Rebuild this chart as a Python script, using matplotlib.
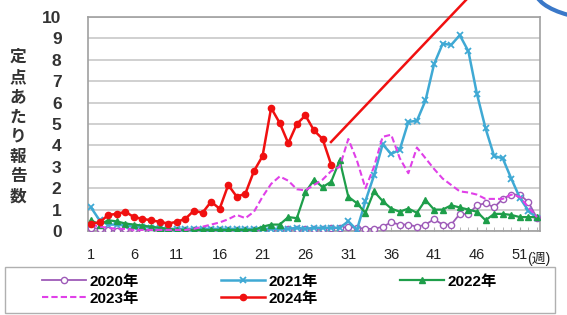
import matplotlib
matplotlib.use('Agg')

import numpy as np
import matplotlib.pyplot as plt
from matplotlib.patches import Arc, Rectangle
import matplotlib.lines as mlines

plt.rcParams['font.family'] = ['Liberation Sans', 'Noto Sans CJK JP']

# weekly reports per sentinel site, weeks 1..53
weeks = np.arange(1, 54)

y2020 = [0.15, 0.1, 0.05, 0.0, 0.1, 0.1, 0.05, 0.05, 0.05, 0.05,
         0.05, 0.05, 0.05, 0.05, 0.05, 0.05, 0.05, 0.05, 0.05, 0.05,
         0.05, 0.05, 0.1, 0.1, 0.1, 0.1, 0.1, 0.1, 0.15, 0.15,
         0.2, 0.15, 0.1, 0.1, 0.2, 0.4, 0.3, 0.3, 0.2, 0.3,
         0.55, 0.3, 0.3, 0.8, 0.8, 1.2, 1.3, 1.1, 1.5, 1.7,
         1.7, 1.35, 0.6]

y2021 = [1.1, 0.5, 0.3, 0.3, 0.25, 0.2, 0.2, 0.15, 0.15, 0.1,
         0.1, 0.1, 0.1, 0.1, 0.1, 0.1, 0.1, 0.1, 0.1, 0.1,
         0.1, 0.1, 0.1, 0.1, 0.15, 0.1, 0.15, 0.15, 0.15, 0.15,
         0.45, 0.05, 1.4, 2.6, 4.05, 3.6, 3.8, 5.1, 5.15, 6.1,
         7.8, 8.75, 8.7, 9.15, 8.4, 6.4, 4.8, 3.5, 3.4, 2.45,
         1.55, 0.95, 0.6]

y2022 = [0.5, 0.3, 0.5, 0.45, 0.35, 0.3, 0.25, 0.2, 0.15, 0.1,
         0.05, 0.05, 0.05, 0.05, 0.05, 0.05, 0.05, 0.05, 0.05, 0.05,
         0.2, 0.3, 0.3, 0.65, 0.6, 1.8, 2.4, 2.05, 2.3, 3.3,
         1.6, 1.3, 0.85, 1.85, 1.4, 1.05, 0.9, 1.05, 0.85, 1.45,
         1.0, 1.0, 1.2, 1.1, 1.0, 0.9, 0.5, 0.8, 0.8, 0.75,
         0.65, 0.65, 0.65]

y2023 = [0.3, 0.2, 0.15, 0.1, 0.1, 0.05, 0.05, 0.05, 0.05, 0.05,
         0.05, 0.05, 0.1, 0.2, 0.3, 0.4, 0.55, 0.75, 0.6, 0.9,
         1.6, 2.2, 2.55, 2.35, 1.95, 1.9, 2.15, 2.4, 2.8, 3.0,
         4.3, 3.3, 2.0, 3.0, 4.4, 4.5, 3.4, 2.7, 3.9, 3.4,
         2.9, 2.45, 2.15, 1.85, 1.8, 1.7, 1.5, 1.5, 1.5, 1.7,
         1.6, 1.1, 0.65]

y2024 = [0.35, 0.4, 0.75, 0.8, 0.9, 0.65, 0.57, 0.5, 0.43, 0.35,
         0.43, 0.57, 0.95, 0.85, 1.37, 1.04, 2.15, 1.6, 1.75, 2.8,
         3.5, 5.75, 5.05, 4.1, 5.0, 5.4, 4.7, 4.3, 3.1]

week_ticks = [1, 6, 11, 16, 21, 26, 31, 36, 41, 46, 51]

fig = plt.figure(figsize=(5.67, 3.15), dpi=100)
ax = fig.add_axes([88 / 567, 1 - 231 / 315, 452 / 567, 214 / 315])

ax.plot(weeks, y2020, color='#9E5BB8', lw=1.3, marker='o', ms=4.5,
        mfc='white', mec='#9E5BB8', mew=1.0, label='2020年', zorder=3)
ax.plot(weeks, y2021, color='#3FA9D4', lw=1.8, marker='x', ms=4.5,
        mew=1.3, label='2021年', zorder=3)
ax.plot(weeks, y2022, color='#1E9E4A', lw=1.6, marker='^', ms=4.5,
        label='2022年', zorder=3)
ax.plot(weeks, y2023, color='#E040E8', lw=1.5, ls=(0, (3, 1.5)),
        label='2023年', zorder=3)
ax.plot(weeks[:len(y2024)], y2024, color='#F01010', lw=1.8, marker='o',
        ms=4.5, label='2024年', zorder=4)

ax.set_xlim(0.65, 53.35)
ax.set_ylim(0, 10)
ax.set_yticks(range(0, 11))
ax.set_yticklabels([str(v) for v in range(0, 11)], fontsize=12.5,
                   fontweight='bold', color='#333333')
ax.set_xticks(week_ticks)
ax.set_xticklabels([str(w) for w in week_ticks], fontsize=10.5, color='#222222')
ax.set_xticks(weeks, minor=True)
ax.tick_params(axis='y', length=0, pad=19)
ax.tick_params(axis='x', which='both', direction='in', length=3,
               color='#aaaaaa', pad=12)
ax.grid(axis='y', color='#c8c8c8', lw=1.2)
ax.set_axisbelow(True)
for s in ax.spines.values():
    s.set_color('#a0a0a0')
    s.set_linewidth(1.2)

# week unit after the last tick label
ax.text(51.9, -0.13, '(週)', transform=ax.get_xaxis_transform(),
        fontsize=10, color='#222222', ha='left', va='center')

# vertical y label, one character per line
fig.text(18 / 567, 1 - 127 / 315, '\n'.join('定点あたり報告数'),
         fontsize=12, fontweight='bold', color='#333333',
         ha='center', va='center', linespacing=1.4)

# legend under the chart, row-major order as in the original
h, l = ax.get_legend_handles_labels()
order = [0, 3, 1, 4, 2]
leg = fig.legend([h[i] for i in order], [l[i] for i in order], ncol=3,
                 loc='upper left', bbox_to_anchor=(31 / 567, 1 - 264 / 315),
                 prop={'size': 11, 'weight': 'bold'}, handlelength=2.9,
                 handletextpad=0.2, labelspacing=0.2, borderpad=0.2,
                 columnspacing=5.4, frameon=False)
fig.add_artist(Rectangle((5 / 567, 2 / 315), 550 / 567, 46 / 315,
                         transform=fig.transFigure, fill=False,
                         edgecolor='#b0b0b0', lw=1.0))

# red call-out line from the last 2024 point
fig.add_artist(mlines.Line2D([331 / 567, 466 / 567], [1 - 142 / 315, 1.0],
                             color='#F01010', lw=1.8))
# edge of a blue call-out bubble at the top right
fig.add_artist(Arc((610 / 567, 1 + 10 / 315), 150 / 567, 60 / 315,
                   theta1=180, theta2=300, color='#3A78C8', lw=3,
                   transform=fig.transFigure))

fig.savefig('out.png', dpi=100)
